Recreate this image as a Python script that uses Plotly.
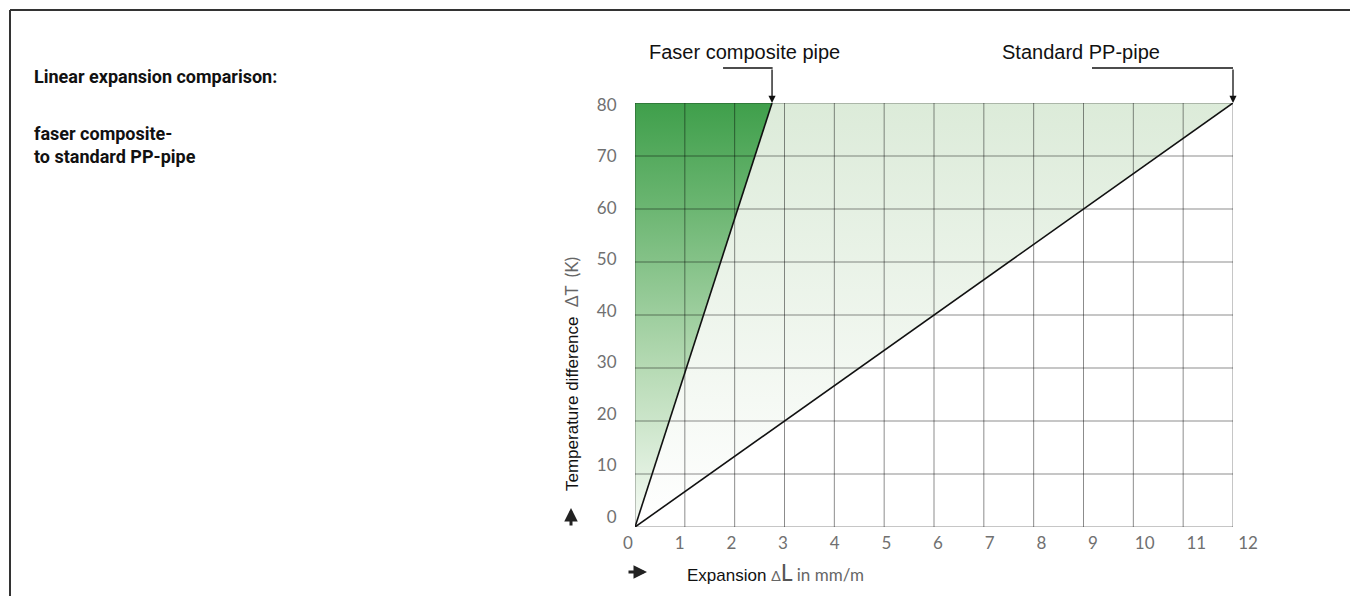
import plotly.graph_objects as go

# data
x_ticks = [0, 1, 2, 3, 4, 5, 6, 7, 8, 9, 10, 11, 12]
y_ticks = [0, 10, 20, 30, 40, 50, 60, 70, 80]
composite_dl = [0, 2.75]   # mm/m
composite_dt = [0, 80]     # K
standard_dl = [0, 12]
standard_dt = [0, 80]
pipe_names = ["Faser composite pipe", "Standard PP-pipe"]

# page has an 8px body margin, so the figure is a bit smaller than the window
OFF = 8
W, H = 1358 - 2 * OFF, 604 - 2 * OFF
# plot area in screen pixels (label axes), main grid sits slightly inside it
L, R, T, B = 628, 1248, 103, 527


def px(x):
    return (x - L) / (R - L)


def py(y):
    return (B - y) / (B - T)


fig = go.Figure()

# light green area between the two lines
fig.add_trace(go.Scatter(
    x=[standard_dl[0], composite_dl[1], standard_dl[1], standard_dl[0]],
    y=[standard_dt[0], composite_dt[1], standard_dt[1], standard_dt[0]],
    fill="toself", mode="none", hoverinfo="skip", showlegend=False,
    fillgradient=dict(type="vertical",
                      colorscale=[[0, "#ffffff"], [0.3, "#f5f9f4"], [1, "#dcebd9"]])))

# dark green area left of the composite line
fig.add_trace(go.Scatter(
    x=[composite_dl[0], composite_dl[0], composite_dl[1], composite_dl[0]],
    y=[composite_dt[0], composite_dt[1], composite_dt[1], composite_dt[0]],
    fill="toself", mode="none", hoverinfo="skip", showlegend=False,
    fillgradient=dict(type="vertical",
                      colorscale=[[0, "#f7fbf6"], [0.375, "#b6dab4"], [0.75, "#6cb672"], [1, "#3f9f4b"]])))

# grid drawn on top of the fills
gx, gy = [], []
for v in x_ticks:
    gx += [v, v, None]
    gy += [y_ticks[0], y_ticks[-1], None]
for v in y_ticks:
    gx += [x_ticks[0], x_ticks[-1], None]
    gy += [v, v, None]
fig.add_trace(go.Scatter(x=gx, y=gy, mode="lines", hoverinfo="skip", showlegend=False,
                         line=dict(color="rgba(0,0,0,0.45)", width=1)))

fig.add_trace(go.Scatter(x=composite_dl, y=composite_dt, mode="lines", name=pipe_names[0],
                         showlegend=False, line=dict(color="#111", width=1.6)))
fig.add_trace(go.Scatter(x=standard_dl, y=standard_dt, mode="lines", name=pipe_names[1],
                         showlegend=False, line=dict(color="#111", width=1.6)))

# empty trace so the label axes get drawn
fig.add_trace(go.Scatter(x=[], y=[], xaxis="x2", yaxis="y2", showlegend=False))

tick_font = dict(family="Lato, 'DejaVu Sans', sans-serif", size=17, color="#707070")

fig.update_layout(
    width=W, height=H,
    margin=dict(l=L - OFF, r=W + OFF - R, t=T - OFF, b=H + OFF - B),
    paper_bgcolor="white", plot_bgcolor="rgba(0,0,0,0)",
    xaxis=dict(domain=[px(635), px(1233)], range=[0, 12], showgrid=False, zeroline=False,
               showticklabels=False, showline=False, fixedrange=True),
    yaxis=dict(domain=[0, 1], range=[0, 80], showgrid=False, zeroline=False,
               showticklabels=False, showline=False, fixedrange=True),
    # tick labels sit on their own slightly stretched axes, like the original
    xaxis2=dict(domain=[0, 1], range=[0, 12], anchor="free", position=0,
                tickvals=x_ticks, ticks="outside", ticklen=1, tickcolor="rgba(0,0,0,0)",
                showgrid=False, zeroline=False, showline=False, tickfont=tick_font),
    yaxis2=dict(domain=[py(517), py(105)], range=[0, 80], anchor="free", position=px(635),
                tickvals=y_ticks, ticks="outside", ticklen=15, tickcolor="rgba(0,0,0,0)",
                showgrid=False, zeroline=False, showline=False, tickfont=tick_font),
    font=dict(family="'Liberation Sans', Arial, sans-serif", color="#111"),
)

label_font = dict(family="'Liberation Sans', Arial, sans-serif", size=20, color="#111")
# pipe labels with elbow arrows
for xe, ye, name, shift, run in [(composite_dl[1], composite_dt[1], pipe_names[0], -28, 49),
                                 (standard_dl[1], standard_dt[1], pipe_names[1], -152, 141)]:
    fig.add_annotation(x=xe, y=ye, xref="x", yref="y", text=name, showarrow=False,
                       xanchor="center", yanchor="middle",
                       xshift=shift, yshift=51, font=label_font)
    fig.add_annotation(x=xe, y=ye, xref="x", yref="y", text="", showarrow=True,
                       ax=0, ay=-35, arrowhead=2, arrowsize=1.1, arrowwidth=1.3,
                       arrowcolor="#111", standoff=0)
    fig.add_shape(type="line", xref="x", yref="paper", xsizemode="pixel", ysizemode="pixel",
                  xanchor=xe, yanchor=1, x0=-run, x1=0.6, y0=35, y1=35,
                  line=dict(color="#111", width=1.3))

# axis titles
fig.add_annotation(xref="paper", yref="paper", x=px(571), y=py(374), textangle=-90,
                   xanchor="center", yanchor="middle",
                   showarrow=False, font=dict(size=17, color="#111"),
                   text="Temperature difference  <span style='color:#666;font-family:Lato'>\u0394T  (K)</span>")
fig.add_annotation(xref="paper", yref="paper", x=px(571), y=py(508), ax=0, ay=19, text="",
                   showarrow=True, arrowhead=2, arrowsize=0.9, arrowwidth=3, arrowcolor="#222",
                   standoff=0)
fig.add_annotation(xref="paper", yref="paper", x=px(685), y=py(572), xanchor="left", yanchor="middle",
                   showarrow=False, font=dict(size=17, color="#111"),
                   text="Expansion <span style='color:#666;font-size:14px;font-family:Lato'>\u0394</span>"
                        "<span style='color:#555;font-size:23px;font-family:Lato'>L</span>"
                        "<span style='color:#666;font-family:Lato'> in mm/m</span>")
fig.add_annotation(xref="paper", yref="paper", x=px(647), y=py(572), ax=-20, ay=0, text="",
                   showarrow=True, arrowhead=2, arrowsize=0.9, arrowwidth=3, arrowcolor="#222",
                   standoff=0)

# heading on the left (condensed bold in the original)
head_font = dict(family="Roboto, 'Liberation Sans', sans-serif", size=18, color="#111", weight=700)
fig.add_annotation(xref="paper", yref="paper", x=px(32), y=py(76), xanchor="left", yanchor="middle",
                   showarrow=False, font=head_font, text="Linear expansion comparison:")
fig.add_annotation(xref="paper", yref="paper", x=px(32), y=py(145), xanchor="left", yanchor="middle",
                   align="left", showarrow=False, font=head_font,
                   text="faser composite-<br>to standard PP-pipe")

# frame: top and left edge
fig.add_shape(type="line", xref="paper", yref="paper", x0=px(10), x1=px(1358), y0=py(10), y1=py(10),
              line=dict(color="#333", width=2))
fig.add_shape(type="line", xref="paper", yref="paper", x0=px(10), x1=px(10), y0=py(10), y1=py(604),
              line=dict(color="#333", width=2))

fig.write_html("out.html")
